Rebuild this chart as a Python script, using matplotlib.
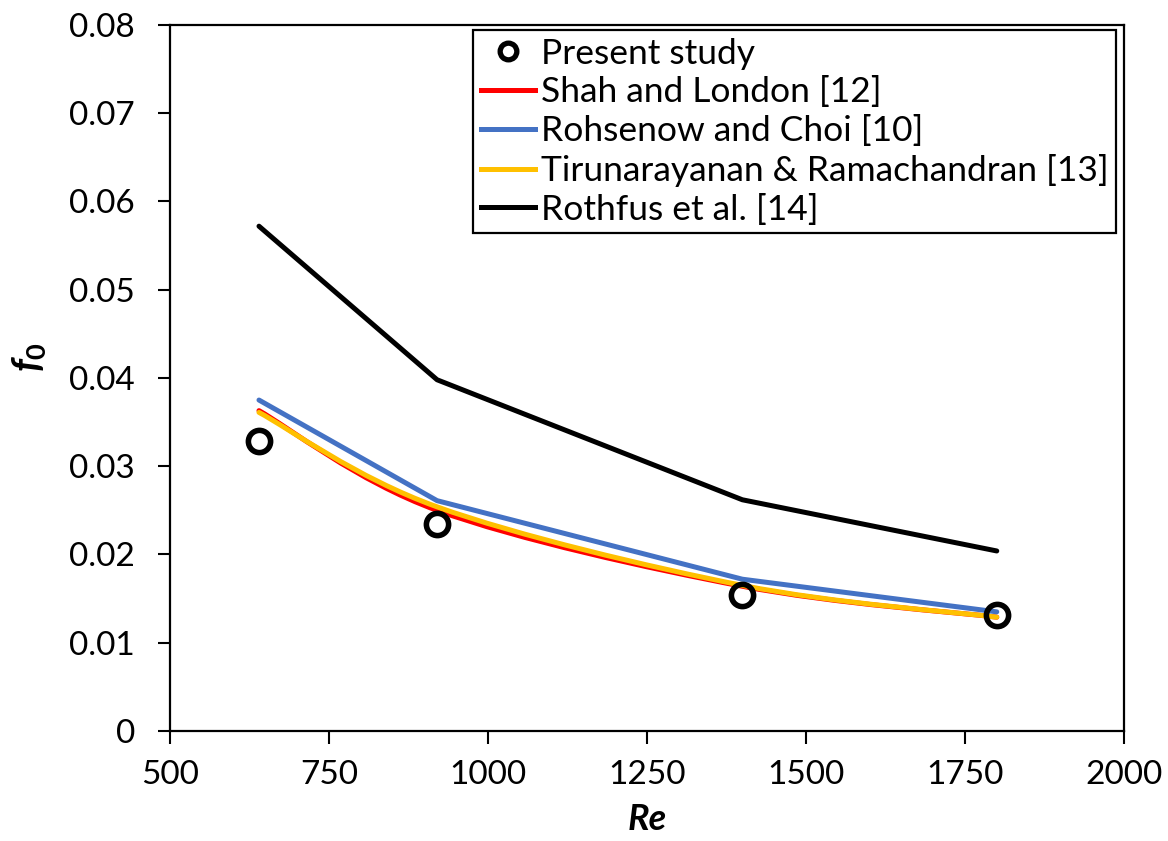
import numpy as np
import matplotlib
matplotlib.use("Agg")
import matplotlib.pyplot as plt
from matplotlib.path import Path
from matplotlib.patches import PathPatch
from matplotlib.lines import Line2D

plt.rcParams['font.family'] = ['Lato', 'DejaVu Sans']
plt.rcParams['mathtext.fontset'] = 'custom'
plt.rcParams['mathtext.it'] = 'Lato:italic:bold'
plt.rcParams['mathtext.rm'] = 'Lato:bold'

# data
re = [640, 920, 1400, 1800]
present = [0.0329, 0.0235, 0.0154, 0.0132]
shah_london = [0.0363, 0.0250, 0.0164, 0.0129]
rohsenow_choi = [0.0375, 0.0261, 0.0172, 0.0135]
tiruna = [0.0361, 0.0254, 0.0165, 0.0129]
rothfus = [0.0572, 0.0398, 0.0262, 0.0204]

labels = ["Present study", "Shah and London [12]", "Rohsenow and Choi [10]",
          "Tirunarayanan & Ramachandran [13]", "Rothfus et al. [14]"]


def smooth_path(ax, xs, ys, **kw):
    # catmull-rom style bezier through the points (smoothed line)
    pts = ax.transData.transform(np.column_stack([xs, ys]))
    verts = [pts[0]]
    codes = [Path.MOVETO]
    n = len(pts)
    for i in range(n - 1):
        p0 = pts[max(i - 1, 0)]
        p1 = pts[i]
        p2 = pts[i + 1]
        p3 = pts[min(i + 2, n - 1)]
        c1 = p1 + (p2 - p0) / 6.0
        c2 = p2 - (p3 - p1) / 6.0
        verts += [c1, c2, p2]
        codes += [Path.CURVE4] * 3
    path = Path(ax.transData.inverted().transform(np.array(verts)), codes)
    ax.add_patch(PathPatch(path, fill=False, capstyle='round', **kw))


fig = plt.figure(figsize=(11.68, 8.41), dpi=100)
ax = fig.add_axes([0.1455, 0.1308, 0.8168, 0.8395])
ax.set_xlim(500, 2000)
ax.set_ylim(0, 0.08)

lw = 3.6
smooth_path(ax, re, shah_london, edgecolor='#FF0000', linewidth=lw, zorder=2)
smooth_path(ax, re, tiruna, edgecolor='#FFC000', linewidth=lw, zorder=3)
ax.plot(re, rohsenow_choi, color='#4472C4', lw=lw, zorder=4, solid_capstyle='round')
ax.plot(re, rothfus, color='black', lw=lw, zorder=4, solid_capstyle='round')
ax.plot(re, present, 'o', ms=16, mfc='none', mec='black', mew=4, zorder=5)

ax.set_xticks([500, 750, 1000, 1250, 1500, 1750, 2000])
ax.set_yticks(np.arange(0, 0.081, 0.01))
ax.set_yticklabels(['0'] + ['%.2f' % v for v in np.arange(0.01, 0.081, 0.01)])
ax.tick_params(labelsize=24, width=1.5, length=9, color='black')
ax.tick_params(axis='y', pad=16)
ax.tick_params(axis='x', pad=12)
for s in ax.spines.values():
    s.set_linewidth(1.6)

ax.set_xlabel('Re', fontsize=26, fontweight='bold', style='italic', labelpad=9)
ax.set_ylabel(r'$f_{0}$', fontsize=28)
ax.yaxis.set_label_coords(-0.128, 0.53)

handles = [
    Line2D([], [], ls='none', marker='o', ms=12, mfc='none', mec='black', mew=3.8),
    Line2D([], [], color='#FF0000', lw=lw),
    Line2D([], [], color='#4472C4', lw=lw),
    Line2D([], [], color='#FFC000', lw=lw),
    Line2D([], [], color='black', lw=lw),
]
leg = ax.legend(handles, labels, loc='upper right', bbox_to_anchor=(0.992, 0.993),
                fontsize=25.5, frameon=True, fancybox=False, framealpha=1,
                borderpad=0.22, labelspacing=0.19, handlelength=1.55,
                handletextpad=0.15, borderaxespad=0)
leg.get_frame().set_edgecolor('black')
leg.get_frame().set_linewidth(1.6)

fig.savefig('out.png', dpi=100)
